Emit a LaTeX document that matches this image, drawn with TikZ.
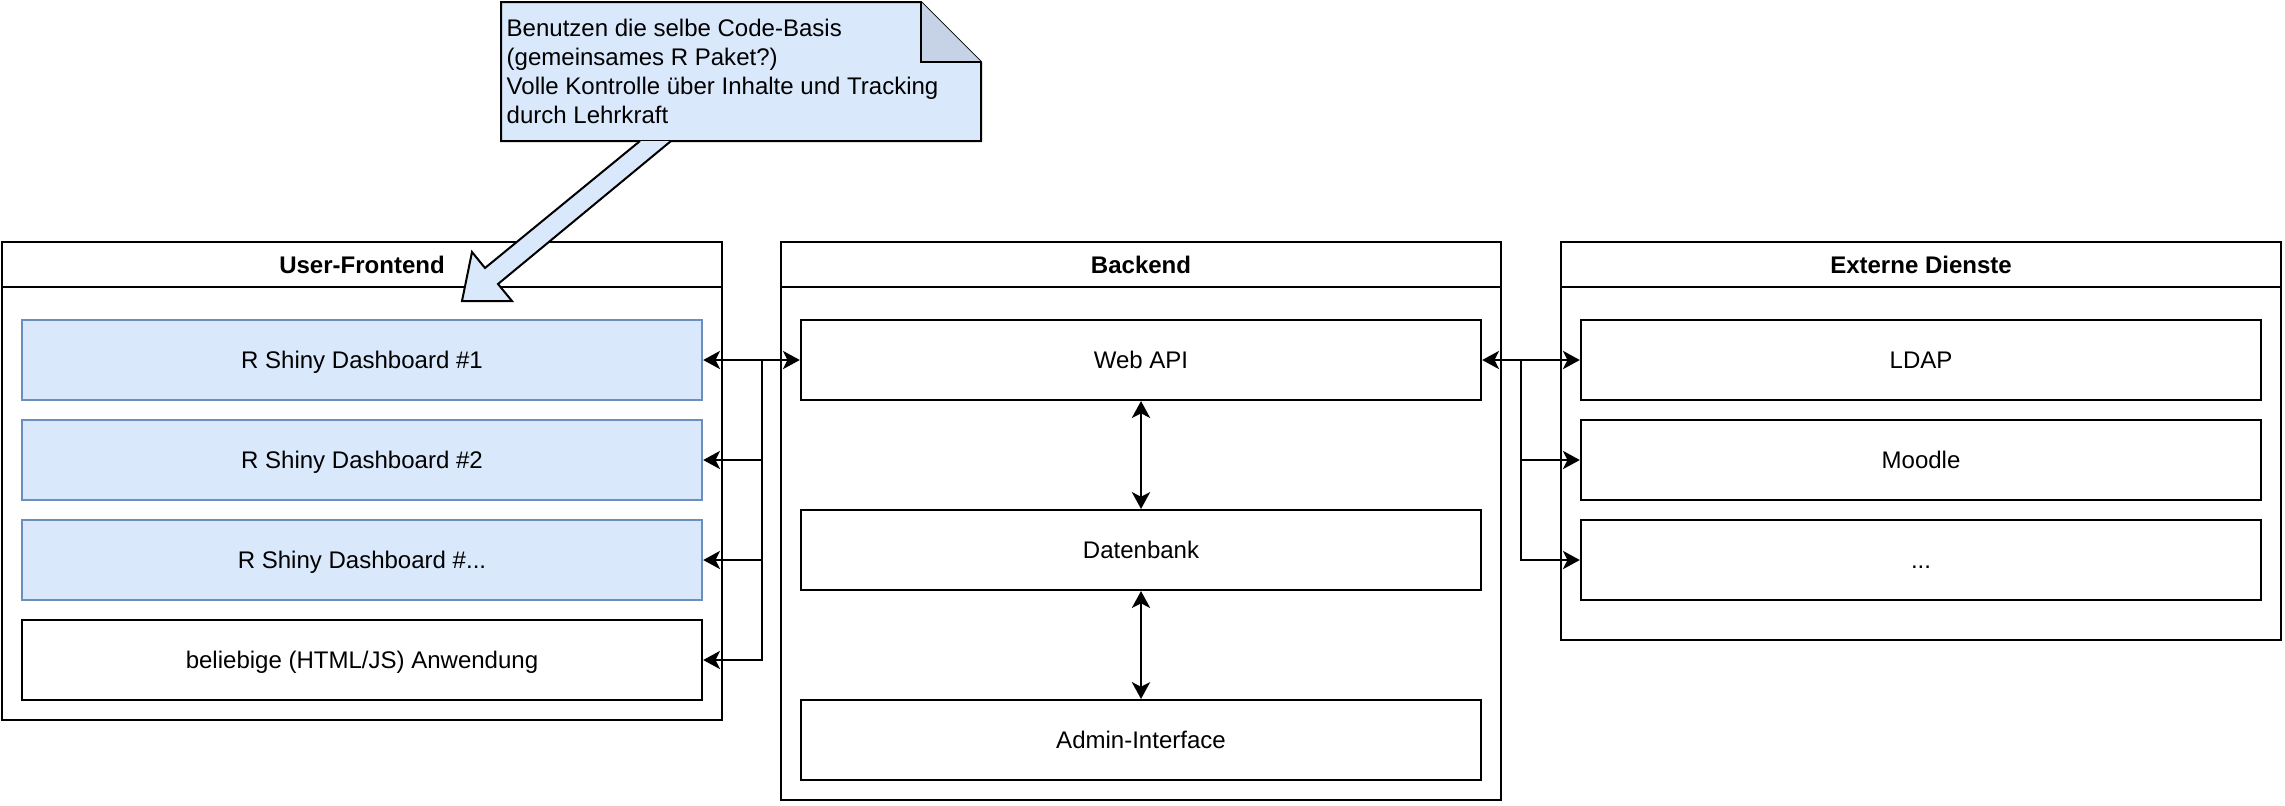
\documentclass[tikz,border=0pt]{standalone}
\usepackage{fontspec}
\setmainfont{Liberation Sans}
\usepackage{xcolor}
\usepackage{tikz}
\usetikzlibrary{arrows.meta, positioning}
\definecolor{dioBlue}{HTML}{DAE8FC}
\definecolor{dioBlueLine}{HTML}{6C8EBF}
\definecolor{dioFold}{HTML}{C6D3E6}
\newcommand{\diofont}{\fontsize{6.83pt}{8.25pt}\selectfont}
\tikzset{
  lane/.style={
    draw, line width=0.57pt, minimum width=7.2cm,
    inner sep=0pt
  },
  lanetitle/.style={font=\diofont\bfseries, text height=5.1pt, text depth=0.3pt},
  itembox/.style={
    draw, line width=0.57pt, fill=white,
    minimum width=6.8cm, minimum height=0.8cm,
    font=\diofont, inner sep=0pt,
    text height=5.1pt, text depth=0.3pt
  },
  dashbox/.style={itembox, draw=dioBlueLine, fill=dioBlue},
  arr/.style={-{Stealth[length=4.8pt, width=5.2pt, inset=1.3pt]}, line width=0.57pt},
  darr/.style={{Stealth[length=4.8pt, width=5.2pt, inset=1.3pt]}-{Stealth[length=4.8pt, width=5.2pt, inset=1.3pt]}, line width=0.57pt}
}

\begin{document}
\begin{tikzpicture}[x=0.01cm, y=-0.01cm]
\useasboundingbox (0,0) rectangle (2285,805);

% Containers
\node[lane, minimum height=4.78cm] (fe) at (362,481) {};
\node[lane, minimum height=5.58cm] (be) at (1141,521) {};
\node[lane, minimum height=3.98cm] (ext) at (1921,441) {};
\foreach \c in {fe,be,ext}
  \draw[line width=0.57pt] (\c.north west) ++(0,46) -- ++(720,0);
\node[lanetitle] (feTitle) at (362,265) {User-Frontend};
\node[lanetitle] (beTitle) at (1141,265) {Backend};
\node[lanetitle] (extTitle) at (1921,265) {Externe Dienste};

% User-Frontend
\node[dashbox] (dash1) at (362,360) {R Shiny Dashboard \#1};
\node[dashbox] (dash2) at (362,460) {R Shiny Dashboard \#2};
\node[dashbox] (dash3) at (362,560) {R Shiny Dashboard \#...};
\node[itembox] (anyApp) at (362,660) {beliebige (HTML/JS) Anwendung};

% Backend
\node[itembox] (api) at (1141,360) {Web API};
\node[itembox] (db) at (1141,550) {Datenbank};
\node[itembox] (admin) at (1141,740) {Admin-Interface};

% Externe Dienste
\node[itembox] (ldap) at (1921,360) {LDAP};
\node[itembox] (moodle) at (1921,460) {Moodle};
\node[itembox] (more) at (1921,560) {...};

% Connections frontend <-> API
\coordinate (busL) at (762,360);
\draw[darr] (dash1) -- (api);
\foreach \d in {dash2,dash3,anyApp}
  \draw[arr] (busL) |- (\d);

% Connections API <-> external services
\coordinate (busR) at (1521,360);
\draw[darr] (api) -- (ldap);
\foreach \e in {moodle,more}
  \draw[arr] (busR) |- (\e);

% Backend internal
\draw[darr] (api) -- (db);
\draw[darr] (db) -- (admin);

% Note
\filldraw[fill=dioBlue, line width=0.57pt] (501,2) -- (921,2) -- (981,62) -- (981,141) -- (501,141) -- cycle;
\filldraw[fill=dioFold, line width=0.57pt] (921,2) -- (921,62) -- (981,62);
\node[font=\diofont, align=left, anchor=west, inner sep=0pt] (note) at (506,71) {Benutzen die selbe Code-Basis\\(gemeinsames R Paket?)\\Volle Kontrolle über Inhalte und Tracking\\durch Lehrkraft};

% Block arrow from note
\filldraw[fill=dioBlue, line width=0.57pt] (640,141) -- (485,268) -- (472,252) -- (462,301) -- (512,301) -- (498,284) -- (671,141);

\end{tikzpicture}
\end{document}
